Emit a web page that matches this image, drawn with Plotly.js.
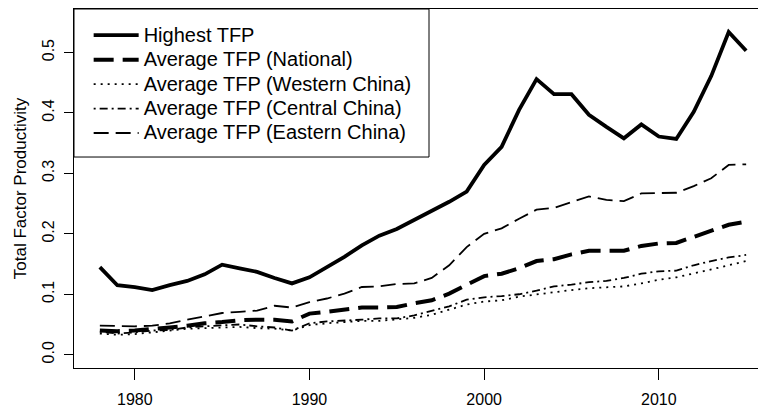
<!DOCTYPE html>
<html><head><meta charset="utf-8">
<script src="https://cdn.plot.ly/plotly-3.0.1.min.js"></script>
<style>html,body{margin:0;padding:0;overflow:hidden;background:#fff;width:758px;height:411px}</style>
</head><body><div id="chart"></div>
<script>
const years = [1978,1979,1980,1981,1982,1983,1984,1985,1986,1987,1988,1989,1990,1991,1992,1993,1994,1995,1996,1997,1998,1999,2000,2001,2002,2003,2004,2005,2006,2007,2008,2009,2010,2011,2012,2013,2014,2015];
const highest = [0.145,0.115,0.112,0.107,0.115,0.122,0.133,0.149,0.143,0.137,0.127,0.118,0.128,0.145,0.162,0.181,0.197,0.208,0.223,0.237,0.253,0.270,0.314,0.344,0.405,0.456,0.431,0.431,0.397,0.377,0.358,0.381,0.361,0.357,0.402,0.461,0.534,0.503];
const national = [0.040,0.039,0.040,0.042,0.045,0.048,0.052,0.054,0.057,0.058,0.058,0.055,0.068,0.071,0.074,0.078,0.078,0.079,0.085,0.090,0.101,0.115,0.130,0.134,0.143,0.155,0.158,0.166,0.172,0.172,0.172,0.180,0.184,0.185,0.195,0.205,0.215,0.220];
const western = [0.035,0.033,0.034,0.037,0.040,0.043,0.044,0.045,0.046,0.044,0.043,0.040,0.049,0.052,0.054,0.056,0.056,0.058,0.061,0.066,0.074,0.083,0.088,0.090,0.096,0.100,0.104,0.107,0.110,0.111,0.113,0.118,0.124,0.128,0.134,0.141,0.148,0.155];
const central = [0.038,0.035,0.037,0.040,0.041,0.045,0.047,0.049,0.050,0.047,0.045,0.040,0.052,0.055,0.056,0.058,0.060,0.060,0.065,0.072,0.080,0.091,0.095,0.097,0.100,0.106,0.113,0.116,0.120,0.122,0.127,0.134,0.138,0.139,0.148,0.155,0.161,0.165];
const eastern = [0.048,0.047,0.047,0.048,0.052,0.058,0.063,0.069,0.071,0.073,0.081,0.078,0.087,0.093,0.101,0.112,0.113,0.117,0.118,0.127,0.148,0.178,0.200,0.209,0.225,0.240,0.243,0.253,0.262,0.256,0.254,0.267,0.268,0.268,0.279,0.292,0.314,0.315];
const seriesNames = ["Highest TFP","Average TFP (National)","Average TFP (Western China)","Average TFP (Central China)","Average TFP (Eastern China)"];
const xTicks = [1980,1990,2000,2010];
const yTicks = [0.0,0.1,0.2,0.3,0.4,0.5];

const styles = [
  {width:3.8, dash:"solid"},
  {width:4, dash:"20px,9px"},
  {width:1.8, dash:"2px,5px"},
  {width:1.8, dash:"2px,4px,8px,4px"},
  {width:1.8, dash:"15px,7px"}
];
const data = [highest,national,western,central,eastern].map((ys,i)=>({
  x: years, y: ys, type:"scatter", mode:"lines",
  name: '<span style="font-size:20px">' + seriesNames[i] + '</span>',
  line:{color:"#000", width:styles[i].width, dash:styles[i].dash}
}));

const layout = {
  width: 772, height: 411,
  margin:{l:74, r:0, t:9, b:43},
  paper_bgcolor:"#fff", plot_bgcolor:"#fff",
  font:{family:"Liberation Sans, Arial, sans-serif", color:"#000"},
  showlegend:true,
  legend:{x:0.021, y:0.975, xanchor:"left", yanchor:"top", bgcolor:"rgba(0,0,0,0)", borderwidth:0,
    font:{size:16.5, color:"#000"}, tracegroupgap:0, itemwidth:45},
  shapes:[{type:"rect", xref:"paper", yref:"paper", x0:0, x1:0.5086, y0:0.5877, y1:1,
    fillcolor:"#fff", line:{color:"#000", width:1}, layer:"above"}],
  xaxis:{range:[1976.52,2016.48], tickvals:xTicks, ticktext:xTicks.map(String), ticks:"outside", ticklen:11, tickcolor:"#000",
    showline:true, mirror:true, linecolor:"#000", linewidth:1, showgrid:false, zeroline:false,
    ticklabelstandoff:6, tickfont:{size:16, color:"#000"}},
  yaxis:{range:[-0.022,0.572], tickvals:yTicks, ticktext:yTicks.map(v=>v.toFixed(1)), ticks:"outside", ticklen:9, tickcolor:"#000",
    showline:true, mirror:true, linecolor:"#000", linewidth:1, showgrid:false, zeroline:false, tickangle:-90,
    ticklabelstandoff:4, tickfont:{size:16, color:"#000"},
    title:{text:"Total Factor Productivity", font:{size:17, color:"#000"}, standoff:8}}
};
Plotly.newPlot("chart", data, layout, {displayModeBar:false, staticPlot:true});
</script></body></html>
